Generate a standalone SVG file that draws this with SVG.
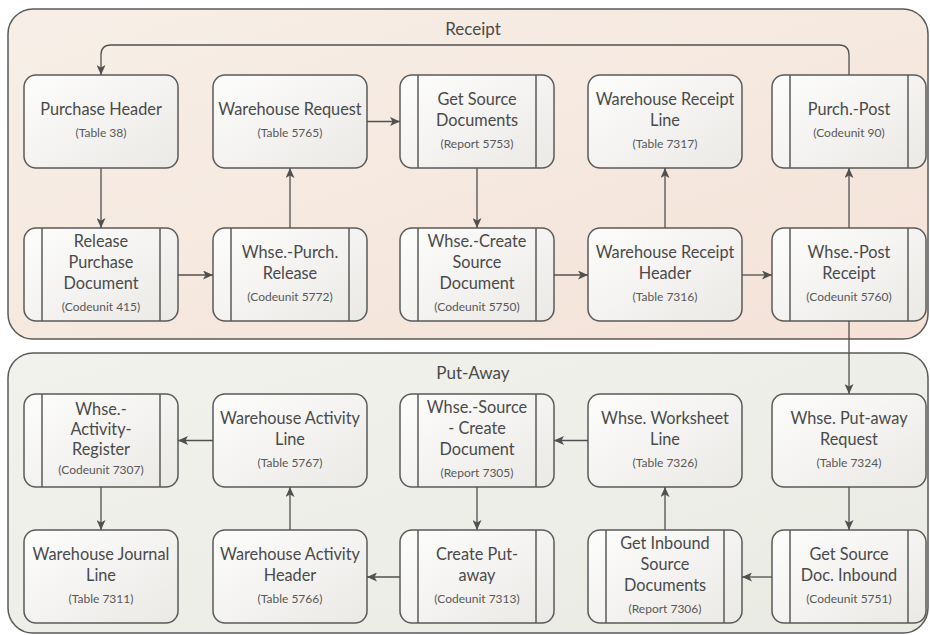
<svg xmlns="http://www.w3.org/2000/svg" width="930" height="635" viewBox="0 0 930 635">
  <defs>
    <linearGradient id="gReceipt" x1="0" y1="0" x2="1" y2="1">
      <stop offset="0" stop-color="#f7efe7"/>
      <stop offset="1" stop-color="#f4e2d8"/>
    </linearGradient>
    <linearGradient id="gPutaway" x1="0" y1="0" x2="1" y2="1">
      <stop offset="0" stop-color="#f1f2ec"/>
      <stop offset="1" stop-color="#e9ebe3"/>
    </linearGradient>
    <linearGradient id="gNode" x1="0" y1="0" x2="1" y2="1">
      <stop offset="0" stop-color="#fdfdfc"/>
      <stop offset="1" stop-color="#ebe9e6"/>
    </linearGradient>
    <marker id="arrow" markerUnits="userSpaceOnUse" markerWidth="10" markerHeight="9" refX="10" refY="4.5" orient="auto">
      <path d="M0,0 L10,4.5 L0,9 L2.5,4.5 z" fill="#505050"/>
    </marker>
  </defs>
  <style>
    .container { stroke: #5a5a5a; stroke-width: 1.5; }
    .node rect { fill: url(#gNode); stroke: #5a5a5a; stroke-width: 1.5; }
    .node line { stroke: #5a5a5a; stroke-width: 1.5; }
    .title { font-family: Lato, "Open Sans", sans-serif; font-size: 17px; fill: #4a4a4a; text-anchor: middle; }
    .t { font-family: Lato, "Open Sans", sans-serif; font-size: 16.3px; fill: #4a4a4a; text-anchor: middle; }
    .s { font-family: Lato, "Open Sans", sans-serif; font-size: 12px; fill: #585858; text-anchor: middle; }
    #connectors path { fill: none; stroke: #505050; stroke-width: 1.3; marker-end: url(#arrow); }
  </style>

  <rect width="930" height="635" fill="#ffffff"/>

  <!-- swimlanes -->
  <g id="lane-receipt">
    <rect class="container" x="8" y="9" width="920" height="330" rx="25" fill="url(#gReceipt)"/>
    <text class="title" x="473" y="35">Receipt</text>
  </g>
  <g id="lane-putaway">
    <rect class="container" x="8" y="353" width="920" height="280" rx="25" fill="url(#gPutaway)"/>
    <text class="title" x="473" y="379">Put-Away</text>
  </g>

  <!-- Receipt, upper row -->
  <g id="purchase-header" class="node">
    <rect x="24" y="75" width="154" height="93" rx="12"/>
    <text class="t" x="101" y="115">Purchase Header</text>
    <text class="s" x="101" y="137">(Table 38)</text>
  </g>
  <g id="warehouse-request" class="node">
    <rect x="213" y="75" width="154" height="93" rx="12"/>
    <text class="t" x="290" y="115">Warehouse Request</text>
    <text class="s" x="290" y="137">(Table 5765)</text>
  </g>
  <g id="get-source-documents" class="node">
    <rect x="400" y="75" width="154" height="93" rx="12"/>
    <line x1="418" y1="75" x2="418" y2="168"/>
    <line x1="536" y1="75" x2="536" y2="168"/>
    <text class="t" x="477" y="104.5">Get Source</text>
    <text class="t" x="477" y="125.5">Documents</text>
    <text class="s" x="477" y="147.5">(Report 5753)</text>
  </g>
  <g id="warehouse-receipt-line" class="node">
    <rect x="588" y="75" width="154" height="93" rx="12"/>
    <text class="t" x="665" y="104.5">Warehouse Receipt</text>
    <text class="t" x="665" y="125.5">Line</text>
    <text class="s" x="665" y="147.5">(Table 7317)</text>
  </g>
  <g id="purch-post" class="node">
    <rect x="772" y="75" width="154" height="93" rx="12"/>
    <line x1="790" y1="75" x2="790" y2="168"/>
    <line x1="908" y1="75" x2="908" y2="168"/>
    <text class="t" x="849" y="115">Purch.-Post</text>
    <text class="s" x="849" y="137">(Codeunit 90)</text>
  </g>

  <!-- Receipt, lower row -->
  <g id="release-purchase-document" class="node">
    <rect x="24" y="228" width="154" height="93" rx="12"/>
    <line x1="42" y1="228" x2="42" y2="321"/>
    <line x1="160" y1="228" x2="160" y2="321"/>
    <text class="t" x="101" y="247">Release</text>
    <text class="t" x="101" y="268">Purchase</text>
    <text class="t" x="101" y="289">Document</text>
    <text class="s" x="101" y="311">(Codeunit 415)</text>
  </g>
  <g id="whse-purch-release" class="node">
    <rect x="213" y="228" width="154" height="93" rx="12"/>
    <line x1="231" y1="228" x2="231" y2="321"/>
    <line x1="349" y1="228" x2="349" y2="321"/>
    <text class="t" x="290" y="257.5">Whse.-Purch.</text>
    <text class="t" x="290" y="278.5">Release</text>
    <text class="s" x="290" y="300.5">(Codeunit 5772)</text>
  </g>
  <g id="whse-create-source-document" class="node">
    <rect x="400" y="228" width="154" height="93" rx="12"/>
    <line x1="418" y1="228" x2="418" y2="321"/>
    <line x1="536" y1="228" x2="536" y2="321"/>
    <text class="t" x="477" y="247">Whse.-Create</text>
    <text class="t" x="477" y="268">Source</text>
    <text class="t" x="477" y="289">Document</text>
    <text class="s" x="477" y="311">(Codeunit 5750)</text>
  </g>
  <g id="warehouse-receipt-header" class="node">
    <rect x="588" y="228" width="154" height="93" rx="12"/>
    <text class="t" x="665" y="257.5">Warehouse Receipt</text>
    <text class="t" x="665" y="278.5">Header</text>
    <text class="s" x="665" y="300.5">(Table 7316)</text>
  </g>
  <g id="whse-post-receipt" class="node">
    <rect x="772" y="228" width="154" height="93" rx="12"/>
    <line x1="790" y1="228" x2="790" y2="321"/>
    <line x1="908" y1="228" x2="908" y2="321"/>
    <text class="t" x="849" y="257.5">Whse.-Post</text>
    <text class="t" x="849" y="278.5">Receipt</text>
    <text class="s" x="849" y="300.5">(Codeunit 5760)</text>
  </g>

  <!-- Put-Away, upper row -->
  <g id="whse-activity-register" class="node">
    <rect x="24" y="394" width="154" height="93" rx="12"/>
    <line x1="42" y1="394" x2="42" y2="487"/>
    <line x1="160" y1="394" x2="160" y2="487"/>
    <text class="t" x="101" y="415">Whse.-</text>
    <text class="t" x="101" y="435">Activity-</text>
    <text class="t" x="101" y="455">Register</text>
    <text class="s" x="101" y="474">(Codeunit 7307)</text>
  </g>
  <g id="warehouse-activity-line" class="node">
    <rect x="213" y="394" width="154" height="93" rx="12"/>
    <text class="t" x="290" y="423.5">Warehouse Activity</text>
    <text class="t" x="290" y="444.5">Line</text>
    <text class="s" x="290" y="466.5">(Table 5767)</text>
  </g>
  <g id="whse-source-create-document" class="node">
    <rect x="400" y="394" width="154" height="93" rx="12"/>
    <line x1="418" y1="394" x2="418" y2="487"/>
    <line x1="536" y1="394" x2="536" y2="487"/>
    <text class="t" x="477" y="413">Whse.-Source</text>
    <text class="t" x="477" y="434">- Create</text>
    <text class="t" x="477" y="455">Document</text>
    <text class="s" x="477" y="477">(Report 7305)</text>
  </g>
  <g id="whse-worksheet-line" class="node">
    <rect x="588" y="394" width="154" height="93" rx="12"/>
    <text class="t" x="665" y="423.5">Whse. Worksheet</text>
    <text class="t" x="665" y="444.5">Line</text>
    <text class="s" x="665" y="466.5">(Table 7326)</text>
  </g>
  <g id="whse-put-away-request" class="node">
    <rect x="772" y="394" width="154" height="93" rx="12"/>
    <text class="t" x="849" y="423.5">Whse. Put-away</text>
    <text class="t" x="849" y="444.5">Request</text>
    <text class="s" x="849" y="466.5">(Table 7324)</text>
  </g>

  <!-- Put-Away, lower row -->
  <g id="warehouse-journal-line" class="node">
    <rect x="24" y="530" width="154" height="93" rx="12"/>
    <text class="t" x="101" y="559.5">Warehouse Journal</text>
    <text class="t" x="101" y="580.5">Line</text>
    <text class="s" x="101" y="602.5">(Table 7311)</text>
  </g>
  <g id="warehouse-activity-header" class="node">
    <rect x="213" y="530" width="154" height="93" rx="12"/>
    <text class="t" x="290" y="559.5">Warehouse Activity</text>
    <text class="t" x="290" y="580.5">Header</text>
    <text class="s" x="290" y="602.5">(Table 5766)</text>
  </g>
  <g id="create-put-away" class="node">
    <rect x="400" y="530" width="154" height="93" rx="12"/>
    <line x1="418" y1="530" x2="418" y2="623"/>
    <line x1="536" y1="530" x2="536" y2="623"/>
    <text class="t" x="477" y="559.5">Create Put-</text>
    <text class="t" x="477" y="580.5">away</text>
    <text class="s" x="477" y="602.5">(Codeunit 7313)</text>
  </g>
  <g id="get-inbound-source-documents" class="node">
    <rect x="588" y="530" width="154" height="93" rx="12"/>
    <line x1="606" y1="530" x2="606" y2="623"/>
    <line x1="724" y1="530" x2="724" y2="623"/>
    <text class="t" x="665" y="549">Get Inbound</text>
    <text class="t" x="665" y="570">Source</text>
    <text class="t" x="665" y="591">Documents</text>
    <text class="s" x="665" y="613">(Report 7306)</text>
  </g>
  <g id="get-source-doc-inbound" class="node">
    <rect x="772" y="530" width="154" height="93" rx="12"/>
    <line x1="790" y1="530" x2="790" y2="623"/>
    <line x1="908" y1="530" x2="908" y2="623"/>
    <text class="t" x="849" y="559.5">Get Source</text>
    <text class="t" x="849" y="580.5">Doc. Inbound</text>
    <text class="s" x="849" y="602.5">(Codeunit 5751)</text>
  </g>

  <!-- flow connectors -->
  <g id="connectors">
    <path d="M849,75 V55 Q849,45 839,45 H111 Q101,45 101,55 V75"/>
    <path d="M101,168 V228"/>
    <path d="M178,275 H213"/>
    <path d="M290,228 V168"/>
    <path d="M367,121.5 H400"/>
    <path d="M477,168 V228"/>
    <path d="M554,275 H588"/>
    <path d="M665,228 V168"/>
    <path d="M742,275 H772"/>
    <path d="M849,228 V168"/>
    <path d="M849,321 V394"/>
    <path d="M849,487 V530"/>
    <path d="M772,577 H742"/>
    <path d="M665,530 V487"/>
    <path d="M588,440.5 H554"/>
    <path d="M477,487 V530"/>
    <path d="M400,577 H367"/>
    <path d="M290,530 V487"/>
    <path d="M213,440.5 H178"/>
    <path d="M101,487 V530"/>
  </g>
</svg>
